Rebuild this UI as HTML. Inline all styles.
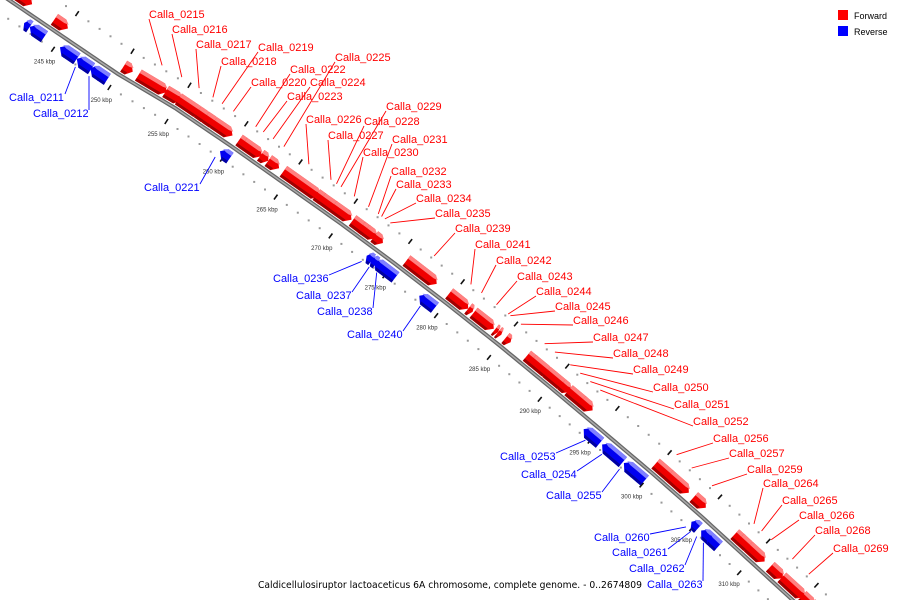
<!DOCTYPE html>
<html><head><meta charset="utf-8"><style>
html,body{margin:0;padding:0;background:#fff;width:900px;height:600px;overflow:hidden;}
svg{display:block;font-family:"Liberation Sans",sans-serif;}
</style></head><body>
<svg id="map" width="900" height="600" viewBox="0 0 900 600" xmlns="http://www.w3.org/2000/svg">
<g id="dots"></g>
<g id="backbone"></g>
<g id="genes"></g>
<g id="labels"></g>
<g>
 <rect x="838" y="10" width="10" height="10" fill="#ff0000"/>
 <text x="854" y="19" font-size="9" fill="#000">Forward</text>
 <rect x="838" y="26" width="10" height="10" fill="#0000ff"/>
 <text x="854" y="35" font-size="9" fill="#000">Reverse</text>
</g>
<text x="258" y="588" font-size="10" font-family="DejaVu Sans, sans-serif" textLength="384" lengthAdjust="spacingAndGlyphs" fill="#000">Caldicellulosiruptor lactoaceticus 6A chromosome, complete genome. - 0..2674809</text>
</svg>
<script>
// axis mapping anchors: kbp -> backbone screen point
const axisKbp = [240,245,250,255,260,265,270,275,280,285,290,295,300,305,310,315,320];
const axisX = [6,62,118,175,231,285,340,394,446,499,550,600,652,702,750,798,845];
const axisY = [-2,36,74,108,146,184,223,263,303,345,387,429,473,517,561,605,650];
const tickKbp = [245,250,255,260,265,270,275,280,285,290,295,300,305,310];

// gene data (kbp)
const geneStart = [240.4,243.8,250.0,251.3,253.7,254.8,256.5,257.2,257.9,260.2,260.6,262.2,262.9,264.3,267.3,267.8,268.8,270.6,271.4,271.8,272.6,275.6,279.7,281.5,282.0,284.0,284.3,285.0,287.1,287.6,289.0,290.5,291.2,292.5,299.7,301.0,303.5,307.7,308.2,309.1,311.4,312.6,314.7,315.6,
 242.1,242.6,245.3,246.8,248.0,259.5,273.0,273.4,273.7,278.0,294.0,295.8,297.9,304.6,305.6,306.2];
const geneEnd = [241.9,245.1,250.9,253.9,255.2,257.0,257.7,258.4,259.7,261.1,262.4,263.0,264.0,267.7,268.4,269.4,270.6,272.3,272.5,272.9,273.5,278.6,281.6,282.0,284.0,284.4,284.7,285.6,288.3,289.5,291.0,291.5,293.2,293.7,301.6,303.1,304.8,308.9,309.6,310.9,312.8,315.0,316.0,317.0,
 242.7,244.0,246.9,248.2,249.6,260.5,273.6,274.0,275.8,279.6,295.7,297.9,300.0,305.4,306.8,307.5];
const geneStrand = [1,1,1,1,1,1,1,1,1,1,1,1,1,1,1,1,1,1,1,1,1,1,1,1,1,1,1,1,1,1,1,1,1,1,1,1,1,1,1,1,1,1,1,1,
 -1,-1,-1,-1,-1,-1,-1,-1,-1,-1,-1,-1,-1,-1,-1,-1];

// labels
const labelNames = ["Calla_0215","Calla_0216","Calla_0217","Calla_0218","Calla_0219","Calla_0220","Calla_0222","Calla_0223","Calla_0224","Calla_0225","Calla_0226","Calla_0227","Calla_0228","Calla_0229","Calla_0230","Calla_0231","Calla_0232","Calla_0233","Calla_0234","Calla_0235","Calla_0239","Calla_0241","Calla_0242","Calla_0243","Calla_0244","Calla_0245","Calla_0246","Calla_0247","Calla_0248","Calla_0249","Calla_0250","Calla_0251","Calla_0252","Calla_0256","Calla_0257","Calla_0259","Calla_0264","Calla_0265","Calla_0266","Calla_0268","Calla_0269",
 "Calla_0211","Calla_0212","Calla_0221","Calla_0236","Calla_0237","Calla_0238","Calla_0240","Calla_0253","Calla_0254","Calla_0255","Calla_0260","Calla_0261","Calla_0262","Calla_0263"];
const labelKbp = [252.5,254.2,255.7,256.9,257.7,258.7,260.7,261.4,262.3,263.3,265.6,267.6,268.1,268.5,269.7,271.0,271.9,272.2,272.5,273.0,277.1,280.6,281.6,283.0,284.1,284.3,285.3,287.6,288.6,290.1,291.1,292.1,293.1,300.5,302.0,304.0,308.3,309.1,310.1,312.3,314.0,
 247.1,248.3,259.5,273.0,273.7,274.4,278.6,294.7,296.3,298.0,304.6,305.1,305.7,306.4];
const labelStrand = [1,1,1,1,1,1,1,1,1,1,1,1,1,1,1,1,1,1,1,1,1,1,1,1,1,1,1,1,1,1,1,1,1,1,1,1,1,1,1,1,1,
 -1,-1,-1,-1,-1,-1,-1,-1,-1,-1,-1,-1,-1,-1];
const labelTextX = [149,172,196,221,258,251,290,287,310,335,306,328,364,386,363,392,391,396,416,435,455,475,496,517,536,555,573,593,613,633,653,674,693,713,729,747,763,782,799,815,833,
 9,33,144,273,296,317,347,500,521,546,594,612,629,647];
const labelTextY = [14,29,44,61,47,82,69,96,82,57,119,135,121,106,152,139,171,184,198,213,228,244,260,276,291,306,320,337,353,369,387,404,421,438,453,469,483,500,515,530,548,
 97,113,187,278,295,311,334,456,474,495,537,552,568,584];

const NS = "http://www.w3.org/2000/svg";
function baseRaw(k){
  let i = 0;
  while (i < axisKbp.length-2 && k > axisKbp[i+1]) i++;
  const t = (k - axisKbp[i]) / (axisKbp[i+1] - axisKbp[i]);
  return {x: axisX[i] + t*(axisX[i+1]-axisX[i]), y: axisY[i] + t*(axisY[i+1]-axisY[i])};
}
function normal(k){
  const a = baseRaw(k-3), b = baseRaw(k+3);
  let tx = b.x-a.x, ty = b.y-a.y; const L = Math.hypot(tx,ty);
  tx/=L; ty/=L;
  return {nx: ty, ny: -tx};
}
function pt(k, off){
  const p = baseRaw(k), n = normal(k);
  return [p.x + n.nx*off, p.y + n.ny*off];
}
function mk(tag, attrs, parent){
  const e = document.createElementNS(NS, tag);
  for (const a in attrs) e.setAttribute(a, attrs[a]);
  parent.appendChild(e); return e;
}
const gDots = document.getElementById('dots');
const gBack = document.getElementById('backbone');
const gGenes = document.getElementById('genes');
const gLabels = document.getElementById('labels');

for (let k = 238; k <= 320; k++) {
  const isTick = k % 5 === 0;
  for (const off of [27, -16]) {
    if (isTick) {
      const a = pt(k, off-3), b = pt(k, off+3);
      const t = mk('line', {x1:a[0].toFixed(1), y1:a[1].toFixed(1), x2:b[0].toFixed(1), y2:b[1].toFixed(1), stroke:'#111', 'stroke-width':1.6}, gDots);
      
      
    } else {
      const a = pt(k, off);
      const d = mk('rect', {x:(a[0]-1).toFixed(1), y:(a[1]-1).toFixed(1), width:2, height:2, fill:'#999'}, gDots);
      
      
    }
  }
}
tickKbp.forEach(k => {
  const a = pt(k, -31);
  const t = mk('text', {x:a[0].toFixed(1), y:(a[1]+2).toFixed(1), 'font-size':6, fill:'#333', 'text-anchor':'middle'}, gDots);
  t.textContent = k + ' kbp';
  
  
});

let d = '';
for (let k = 238; k <= 320; k += 0.5) { const p = baseRaw(k); d += (d ? 'L' : 'M') + p.x.toFixed(1) + ' ' + p.y.toFixed(1); }
const bb1 = mk('path', {d, stroke:'#666', 'stroke-width':4, fill:'none'}, gBack);


const bb2 = mk('path', {d, stroke:'#aaa', 'stroke-width':1.5, fill:'none'}, gBack);



function poly(points){ return points.map(p => p[0].toFixed(1)+','+p[1].toFixed(1)).join(' '); }
for (let i = 0; i < geneStart.length; i++) {
  const s = geneStart[i] + 0.05, e = geneEnd[i] - 0.05, st = geneStrand[i];
  const lo = st > 0 ? 3 : -17, hi = st > 0 ? 16 : -4;
  const h = Math.min(0.45, (e - s) * 0.5);
  const mid = (lo + hi) / 2;
  let body, top, bot;
  if (st > 0) {
    body = [pt(s,lo), pt(e-h,lo), pt(e,mid), pt(e-h,hi), pt(s,hi)];
    top = [pt(s,hi-4), pt(e-h,hi-4), pt(e-h*0.25,hi-3), pt(e-h,hi), pt(s,hi)];
    bot = [pt(s,lo), pt(e-h,lo), pt(e-h*0.8,lo+3), pt(s,lo+3)];
  } else {
    body = [pt(s,mid), pt(s+h,lo), pt(e,lo), pt(e,hi), pt(s+h,hi)];
    top = [pt(s+h*0.25,hi-3), pt(s+h,hi-4), pt(e,hi-4), pt(e,hi), pt(s+h,hi)];
    bot = [pt(s+h*0.8,lo+3), pt(s+h,lo), pt(e,lo), pt(e,lo+3)];
  }
  const c = st > 0 ? ['#f00000','#ff8080','#a00000'] : ['#0000f0','#8080ff','#0000a0'];
  const g = mk('g', {}, gGenes);
  
  
  mk('polygon', {points: poly(body), fill:c[0]}, g);
  mk('polygon', {points: poly(top), fill:c[1]}, g);
  mk('polygon', {points: poly(bot), fill:c[2]}, g);
}

for (let i = 0; i < labelNames.length; i++) {
  const st = labelStrand[i];
  const tgt = pt(labelKbp[i], st > 0 ? 30 : -18);
  const col = st > 0 ? '#ff0000' : '#0000ff';
  const tx = labelTextX[i], ty = labelTextY[i];
  const g = mk('g', {}, gLabels);
  
  
  const w = 55;
  const sx = st > 0 ? tx : tx + w + 1;
  const sy = st > 0 ? ty + 5 : ty - 3;
  mk('line', {x1:sx, y1:sy, x2:tgt[0].toFixed(1), y2:tgt[1].toFixed(1), stroke:col, 'stroke-width':0.9}, g);
  const t = mk('text', {x:tx, y:ty+4, 'font-size':11, fill:col}, g);
  t.textContent = labelNames[i];
}
</script>
</body></html>
